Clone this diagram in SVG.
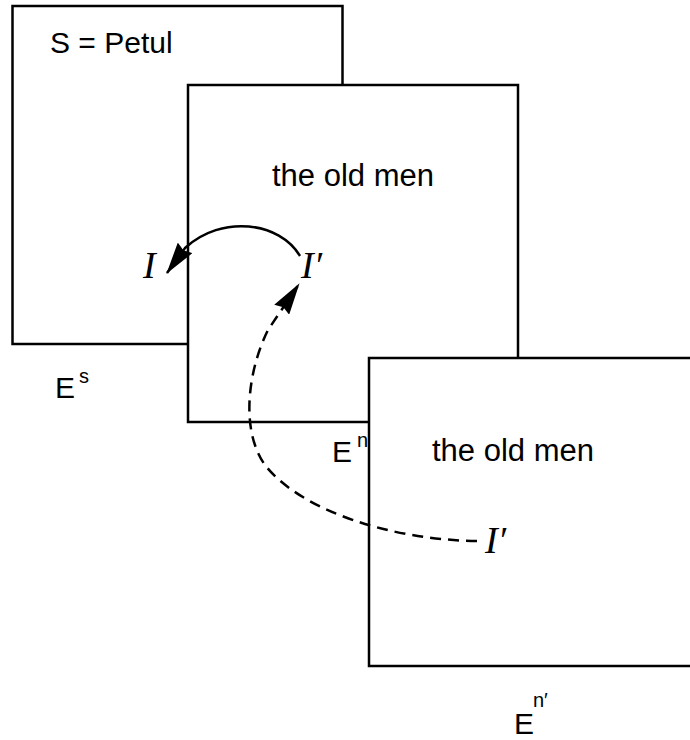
<svg xmlns="http://www.w3.org/2000/svg" width="690" height="740" viewBox="0 0 690 740">
  <style>
    .box { fill: #fff; stroke: #000; stroke-width: 2.5; }
    .lbl { font-family: "Liberation Sans", Arial, sans-serif; font-size: 30px; fill: #000; }
    .title { font-family: "Liberation Sans", Arial, sans-serif; font-size: 31px; fill: #000; text-anchor: middle; }
    .sup { font-family: "Liberation Sans", Arial, sans-serif; font-size: 20px; fill: #000; }
    .var { font-family: "Liberation Serif", "Times New Roman", serif; font-style: italic; font-size: 38px; fill: #000; }
    .link { fill: none; stroke: #000; stroke-width: 2.5; }
    .dash { stroke-dasharray: 11 7; }
  </style>
  <defs>
    <marker id="head" viewBox="0 0 32 18" refX="31" refY="9" markerWidth="32" markerHeight="18" markerUnits="userSpaceOnUse" orient="auto">
      <path d="M0,0 L32,9 L0,18 L3,9 Z" fill="#000"/>
    </marker>
  </defs>

  <g id="space-s">
    <rect class="box" x="12.5" y="6" width="330" height="338"/>
    <text class="lbl" x="50" y="53">S = Petul</text>
    <text class="lbl" x="55" y="398">E</text>
    <text class="sup" x="79" y="383">s</text>
    <text class="var" x="143" y="278">I</text>
  </g>

  <g id="space-n">
    <rect class="box" x="188" y="85" width="330" height="337"/>
    <text class="title" x="353" y="186">the old men</text>
    <text class="var" x="301" y="278">I′</text>
    <text class="lbl" x="332" y="462">E</text>
    <text class="sup" x="357" y="447">n</text>
  </g>

  <g id="space-n-prime">
    <rect class="box" x="369" y="358" width="340" height="308"/>
    <text class="title" x="513" y="461">the old men</text>
    <text class="var" x="485" y="553">I′</text>
    <text class="lbl" x="514" y="734">E</text>
    <text class="sup" x="533" y="707">n′</text>
  </g>

  <g id="connectors">
    <path class="link" d="M300,256 C280,222 222,214 185,248 L167,273" marker-end="url(#head)"/>
    <path class="link dash" d="M477,541 C390,540 300,510 265,465 C240,430 248,370 268,330 L299,284" marker-end="url(#head)"/>
  </g>
</svg>
